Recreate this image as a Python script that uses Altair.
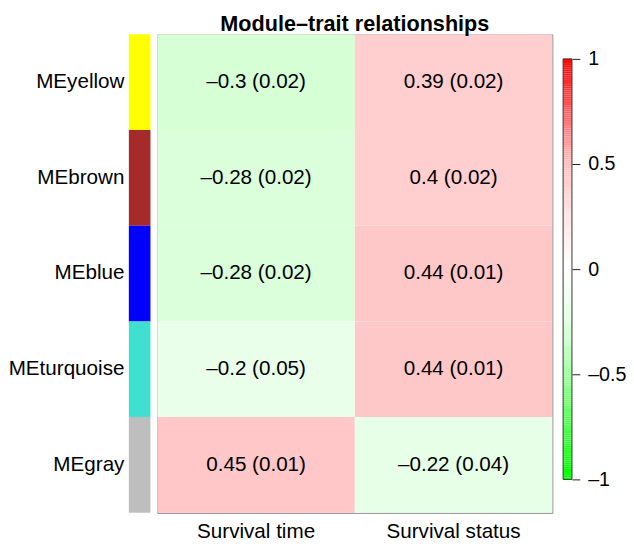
import altair as alt
import pandas as pd

modules = ["MEyellow", "MEbrown", "MEblue", "MEturquoise", "MEgray"]
module_colors = ["#ffff00", "#a52a2a", "#0000ff", "#40e0d0", "#bebebe"]
traits = ["Survival time", "Survival status"]
cor_time = [-0.3, -0.28, -0.28, -0.2, 0.45]
p_time = [0.02, 0.02, 0.02, 0.05, 0.01]
cor_status = [0.39, 0.4, 0.44, 0.44, -0.22]
p_status = [0.02, 0.02, 0.01, 0.01, 0.04]

legend_values = [-1, -0.5, 0, 0.5, 1]
scale_domain = [-1, -0.5, -0.25, 0, 0.25, 0.5, 1]
scale_range = ["#00ff00", "#a0ffa0", "#e3ffe3", "#ffffff", "#ffe3e3", "#ffc0c0", "#ff0000"]

FONT = "Liberation Sans"


def fmt(c, p):
    return f"{c:g} ({p:.2f})".replace("-", "\u2013")


rows = []
for i, m in enumerate(modules):
    rows.append({"module": m, "trait": traits[0], "cor": cor_time[i], "label": fmt(cor_time[i], p_time[i])})
    rows.append({"module": m, "trait": traits[1], "cor": cor_status[i], "label": fmt(cor_status[i], p_status[i])})
cells = pd.DataFrame(rows)
strip_df = pd.DataFrame({"module": modules, "color": module_colors})

H = 487
color_scale = alt.Scale(domain=scale_domain, range=scale_range, interpolate="rgb")

strip = alt.Chart(strip_df).mark_rect().encode(
    y=alt.Y("module:N", sort=modules, title=None,
            axis=alt.Axis(labelFontSize=21, labelFont=FONT, labelColor="black",
                          ticks=False, domain=False, labelPadding=5)),
    color=alt.Color("color:N", scale=None),
).properties(width=22, height=H, view=alt.ViewBackground(stroke=None))

base = alt.Chart(cells).encode(
    x=alt.X("trait:N", sort=traits, title=None,
            axis=alt.Axis(labelAngle=0, labelFontSize=21, labelFont=FONT, labelColor="black",
                          ticks=False, domain=False, labelPadding=8)),
    y=alt.Y("module:N", sort=modules, title=None, axis=None),
)

heat = base.mark_rect().encode(
    color=alt.Color("cor:Q", scale=color_scale, legend=None),
)
txt = base.mark_text(fontSize=21, font=FONT, color="black").encode(text="label:N")

heatmap = (heat + txt).properties(
    width=402, height=H,
    title=alt.TitleParams("Module\u2013trait relationships", fontSize=22, font=FONT,
                          fontWeight="bold", color="black", anchor="middle", offset=-2),
    view=alt.ViewBackground(stroke="#7f7f7f", strokeWidth=1),
)

# colour key: y scale placed so that -1..1 spans the bar's length within the panel
bar_top, bar_len = 25, 428
px_per_unit = bar_len / 2.0
y_hi = 1 + bar_top / px_per_unit
y_lo = -1 - (H - bar_top - bar_len) / px_per_unit
key_scale = alt.Scale(domain=[y_lo, y_hi], nice=False, zero=False)

key_grad = alt.Chart(alt.sequence(-1, 1, 0.01, as_="v")).transform_calculate(
    v2="datum.v + 0.0101"
).mark_rect().encode(
    y=alt.Y("v:Q", scale=key_scale, title=None,
            axis=alt.Axis(orient="right", values=legend_values, format="~g",
                          labelExpr="replace(datum.label, '\u2212', '\u2013')",
                          labelFontSize=20, labelFont=FONT, labelColor="black",
                          tickSize=8, tickColor="#222222", tickWidth=1,
                          domain=False, grid=False, labelPadding=8)),
    y2="v2:Q",
    color=alt.Color("v:Q", scale=color_scale, legend=None),
)
key_frame = alt.Chart(pd.DataFrame({"lo": [legend_values[0]], "hi": [legend_values[-1]]})).mark_rect(
    filled=False, stroke="#333333", strokeWidth=1
).encode(y=alt.Y("lo:Q", scale=key_scale), y2="hi:Q")

key = (key_grad + key_frame).properties(width=9, height=H, view=alt.ViewBackground(stroke=None))

left = alt.hconcat(strip, heatmap, spacing=6).resolve_scale(color="independent")
chart = alt.hconcat(left, key, spacing=9).resolve_scale(
    color="independent"
).properties(
    padding={"left": 0, "top": 0, "right": 0, "bottom": 0}
)

chart.save("out.html", embed_options={"renderer": "svg", "actions": False})
